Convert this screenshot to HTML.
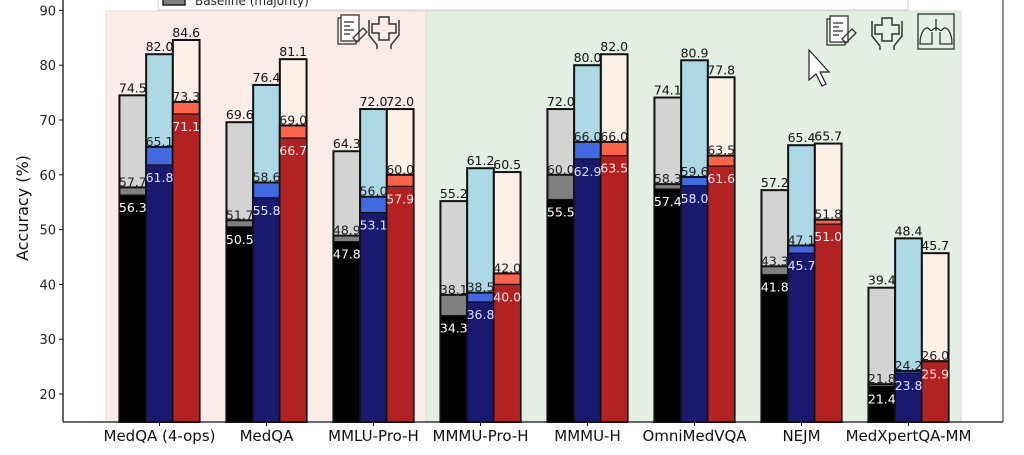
<!DOCTYPE html>
<html><head><meta charset="utf-8"><style>
body{margin:0;background:#fff;}
svg text{font-family:"DejaVu Sans","Liberation Sans",sans-serif;}
</style></head><body>
<svg id="chart" width="1024" height="450" viewBox="0 0 1024 450" xmlns="http://www.w3.org/2000/svg">
<g id="bg"></g><g id="bars"></g><g id="labels"></g><g id="axes"></g>
</svg>
<script>
const categories = ["MedQA (4-ops)","MedQA","MMLU-Pro-H","MMMU-Pro-H","MMMU-H","OmniMedVQA","NEJM","MedXpertQA-MM"];
const grayBase = [56.3,50.5,47.8,34.3,55.5,57.4,41.8,21.4];
const grayMid  = [57.7,51.7,48.9,38.1,60.0,58.3,43.3,21.8];
const grayTop  = [74.5,69.6,64.3,55.2,72.0,74.1,57.2,39.4];
const blueBase = [61.8,55.8,53.1,36.8,62.9,58.0,45.7,23.8];
const blueMid  = [65.1,58.6,56.0,38.5,66.0,59.6,47.1,24.2];
const blueTop  = [82.0,76.4,72.0,61.2,80.0,80.9,65.4,48.4];
const redBase  = [71.1,66.7,57.9,40.0,63.5,61.6,51.0,25.9];
const redMid   = [73.3,69.0,60.0,42.0,66.0,63.5,51.8,26.0];
const redTop   = [84.6,81.1,72.0,60.5,82.0,77.8,65.7,45.7];
const yTicks = [20,30,40,50,60,70,80,90];

const NS="http://www.w3.org/2000/svg";
const X0=63,X1=1003,YB=422;
const yMin=15;
function y(v){return 394-(v-20)*5.48;}
function xc(i){return 159.5+107*i;}
const BW=26.7;
function mk(tag,attrs,parent,txt){const e=document.createElementNS(NS,tag);for(const k in attrs)e.setAttribute(k,attrs[k]);if(txt!==undefined)e.textContent=txt;parent.appendChild(e);return e;}
const bg=document.getElementById('bg'),bars=document.getElementById('bars'),labels=document.getElementById('labels'),axes=document.getElementById('axes');

// backgrounds
let r=mk('rect',{x:106,y:11,width:320,height:YB-11,fill:'#fcece8',stroke:'#e4dcdc','stroke-width':1},bg);


r=mk('rect',{x:426,y:11,width:535,height:YB-11,fill:'#e4efe3',stroke:'#dcdcdc','stroke-width':1},bg);



// legend fragment
let lg=mk('g',{},bg);


mk('rect',{x:158,y:-20,width:750,height:30,fill:'#fff',stroke:'#d0d0d0','stroke-width':1},lg);
mk('rect',{x:163,y:-6,width:22,height:11,fill:'#808080',stroke:'#222','stroke-width':1.5},lg);
let lt=mk('text',{x:195,y:5,'font-size':12,fill:'#222'},lg,'Baseline (majority)');



const series=[
 {base:grayBase,mid:grayMid,top:grayTop,cb:'#000000',cm:'#808080',ct:'#d3d3d3',lc:'#ffffff',name:'baseline'},
 {base:blueBase,mid:blueMid,top:blueTop,cb:'#191970',cm:'#4169e1',ct:'#add8e6',lc:'#dde0ff',name:'model-a'},
 {base:redBase,mid:redMid,top:redTop,cb:'#b22222',cm:'#ff6347',ct:'#faf0e6',lc:'#ffe4e4',name:'model-b'}
];
categories.forEach((c,i)=>{
 series.forEach((s,k)=>{
  const x=xc(i)+(k-1)*BW-BW/2;
  const segs=[[s.top[i],s.ct,'top'],[s.mid[i],s.cm,'mid'],[s.base[i],s.cb,'base']];
  segs.forEach(([v,col,lvl])=>{
   const b=mk('rect',{x:x,y:y(v),width:BW,height:YB-y(v),fill:col,stroke:'#111','stroke-width':lvl==='base'?1.2:2},bars);
   
   
  });
  let t=mk('text',{x:x+BW/2,y:y(s.top[i])-3,'font-size':12.5,'text-anchor':'middle',fill:'#111'},labels,s.top[i].toFixed(1));
  
  
  t=mk('text',{x:x+BW/2,y:y(s.mid[i])-1,'font-size':12.5,'text-anchor':'middle',fill:'#222'},labels,s.mid[i].toFixed(1));
  
  
  t=mk('text',{x:x+BW/2,y:y(s.base[i])+17,'font-size':12.5,'text-anchor':'middle',fill:s.lc},labels,s.base[i].toFixed(1));
  
  
 });
 const xl=mk('text',{x:xc(i),y:441,'font-size':15,'text-anchor':'middle',fill:'#111'},axes,c);
 
 
 mk('line',{x1:xc(i),x2:xc(i),y1:YB,y2:YB+4,stroke:'#111'},axes);
});
yTicks.forEach(v=>{
 mk('line',{x1:X0-4,x2:X0,y1:y(v),y2:y(v),stroke:'#111'},axes);
 const t=mk('text',{x:X0-7,y:y(v)+5,'font-size':13,'text-anchor':'end',fill:'#222'},axes,String(v));
 
 
});
mk('line',{x1:X0,x2:X0,y1:0,y2:YB,stroke:'#111','stroke-width':1.3},axes);
mk('line',{x1:X0,x2:X1,y1:YB,y2:YB,stroke:'#111','stroke-width':1.3},axes);
mk('line',{x1:X1,x2:X1,y1:0,y2:YB,stroke:'#555','stroke-width':1.3},axes);
const yt=mk('text',{x:28,y:208,'font-size':16,'text-anchor':'middle',fill:'#111',transform:'rotate(-90 28 208)'},axes,'Accuracy (%)');



// icons
function docIcon(x,yy){const g=mk('g',{fill:'none',stroke:'#333','stroke-width':1.3},axes);
 mk('rect',{x:x,y:yy+2,width:18,height:26},g);mk('rect',{x:x+3,y:yy-1,width:18,height:26,fill:'#fff'},g);
 for(let k=0;k<4;k++)mk('line',{x1:x+6,x2:x+16-(k%2)*4,y1:yy+6+k*4,y2:yy+6+k*4},g);
 mk('path',{d:`M${x+15} ${yy+22} l10 -10 l4 4 l-10 10 z`},g);
 
 }
function handsIcon(x,yy){const g=mk('g',{fill:'none',stroke:'#333','stroke-width':1.5},axes);
 mk('path',{d:`M${x+10} ${yy+2} h10 v7 h7 v9 h-7 v7 h-10 v-7 h-7 v-9 h7 z`},g);
 mk('path',{d:`M${x} ${yy+5} v15 l8 10 v4 M${x+30} ${yy+5} v15 l-8 10 v4`},g);
 
 }
docIcon(338,16);handsIcon(369,15);
docIcon(827,17);handsIcon(872,16);
const lb=mk('g',{fill:'none',stroke:'#333','stroke-width':1.3},axes);


mk('rect',{x:918,y:14,width:36,height:35},lb);
mk('path',{d:'M936 19 v12 M936 28 c-3 0 -4 4 -6 2 c-4 -6 -10 2 -10 14 h12 v-12 M936 28 c3 0 4 4 6 2 c4 -6 10 2 10 14 h-12 v-12'},lb);
const cur=mk('path',{d:'M809 50 v30 l7 -6 l6 12 l4 -2 l-6 -12 l9 0 z',fill:'#fff',stroke:'#222','stroke-width':1.2},axes);


</script>
</body></html>
